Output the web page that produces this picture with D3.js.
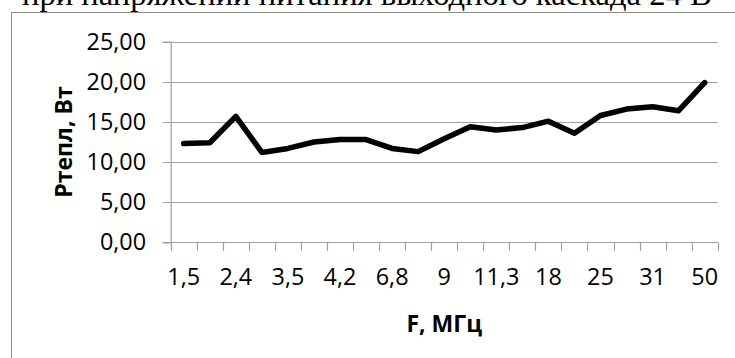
<!DOCTYPE html>
<html>
<head>
<meta charset="utf-8">
<script src="https://cdn.jsdelivr.net/npm/d3@7"></script>
<style>
  html, body { margin: 0; padding: 0; background: #fff; overflow: hidden; }
  svg { display: block; }
</style>
</head>
<body>
<svg id="chart" width="735" height="358"></svg>
<script>
// Frequency points, MHz (only every second one is labelled on the axis)
const frequencies = ["1,5", "2", "2,4", "3", "3,5", "3,8", "4,2", "5,5", "6,8", "8", "9",
                     "10", "11,3", "14", "18", "21", "25", "28", "31", "40", "50"];
// Dissipated power, W
const powerValues = [12.3, 12.4, 15.7, 11.2, 11.7, 12.5, 12.8, 12.8, 11.7, 11.3, 12.9,
                     14.4, 14.0, 14.3, 15.1, 13.6, 15.8, 16.6, 16.9, 16.4, 19.9];
const yTicks = [0, 5, 10, 15, 20, 25];

const titleText = "при напряжении питания выходного каскада 24 В";
const xTitle = "F, МГц";
const yTitle = "Pтепл, Вт";

const svg = d3.select("#chart");
const tickFont = "'Open Sans', sans-serif";

const plot = { left: 170.7, right: 717.7, top: 41.7, bottom: 242.3 };

const x = d3.scaleBand().domain(frequencies).range([plot.left, plot.right]).padding(0);
const y = d3.scaleLinear().domain([0, 25]).range([plot.bottom, plot.top]);
const cx = d => x(d) + x.bandwidth() / 2;
const fmt = v => d3.format(".2f")(v).replace(".", ",");

// Heading line above the chart frame
const title = svg.append("text")
  .attr("x", 22).attr("y", 4.5)
  .attr("font-family", "'Liberation Serif', 'Times New Roman', serif")
  .attr("font-size", 100)
  .attr("fill", "#000")
  .text(titleText);
const tw = title.node().getComputedTextLength();
title.attr("font-size", 100 * 690 / tw);

// Chart frame
svg.append("rect")
  .attr("x", 11.5).attr("y", 12.5)
  .attr("width", 800).attr("height", 400)
  .attr("fill", "none").attr("stroke", "#8c8c8c").attr("stroke-width", 1);

// Horizontal gridlines with outward ticks
svg.append("g").selectAll("line").data(yTicks).join("line")
  .attr("x1", plot.left - 8).attr("x2", plot.right)
  .attr("y1", d => Math.round(y(d)) + 0.5).attr("y2", d => Math.round(y(d)) + 0.5)
  .attr("stroke", "#a0a0a0").attr("stroke-width", 1.2);

// Y axis
const yAxis = d3.axisLeft(y).tickValues(yTicks).tickSize(8).tickPadding(16.6).tickFormat(fmt);
const gy = svg.append("g").attr("transform", `translate(${plot.left},0)`).call(yAxis);
gy.select(".domain").attr("stroke", "#a0a0a0").attr("stroke-width", 1.2);
gy.selectAll(".tick line").remove();
gy.selectAll(".tick text")
  .attr("font-family", tickFont).attr("font-size", 23.4).attr("fill", "#000");

// X axis: band boundaries as ticks, labels on every second category
const edges = frequencies.map(d => x(d)).concat([plot.right]);
svg.append("line")
  .attr("x1", plot.left).attr("x2", plot.right)
  .attr("y1", Math.round(y(0)) + 0.5).attr("y2", Math.round(y(0)) + 0.5)
  .attr("stroke", "#a0a0a0").attr("stroke-width", 1.2);
svg.append("g").selectAll("line").data(edges).join("line")
  .attr("x1", d => Math.round(d) + 0.5).attr("x2", d => Math.round(d) + 0.5)
  .attr("y1", y(0)).attr("y2", y(0) + 8.5)
  .attr("stroke", "#a0a0a0").attr("stroke-width", 1.2);

const xAxis = d3.axisBottom(x)
  .tickValues(frequencies.filter((d, i) => i % 2 === 0))
  .tickSize(0).tickPadding(0);
const gx = svg.append("g").attr("transform", `translate(0,${plot.bottom})`).call(xAxis);
gx.select(".domain").remove();
gx.selectAll(".tick text")
  .attr("y", 42.7).attr("dy", null)
  .attr("font-family", tickFont).attr("font-size", 23.4).attr("fill", "#000");

// Axis titles
svg.append("text")
  .attr("x", (plot.left + plot.right) / 2).attr("y", 332)
  .attr("text-anchor", "middle")
  .attr("font-family", tickFont).attr("font-weight", "bold").attr("font-size", 23)
  .attr("fill", "#000")
  .text(xTitle);

svg.append("text")
  .attr("transform", `translate(72,${(plot.top + plot.bottom) / 2}) rotate(-90)`)
  .attr("text-anchor", "middle")
  .attr("font-family", tickFont).attr("font-weight", "bold").attr("font-size", 23)
  .attr("fill", "#000")
  .text(yTitle);

// Data line
const line = d3.line().x((d, i) => cx(frequencies[i])).y(d => y(d));
svg.append("path")
  .datum(powerValues)
  .attr("d", line)
  .attr("fill", "none")
  .attr("stroke", "#000")
  .attr("stroke-width", 5.5)
  .attr("stroke-linejoin", "round")
  .attr("stroke-linecap", "round");
</script>
</body>
</html>
